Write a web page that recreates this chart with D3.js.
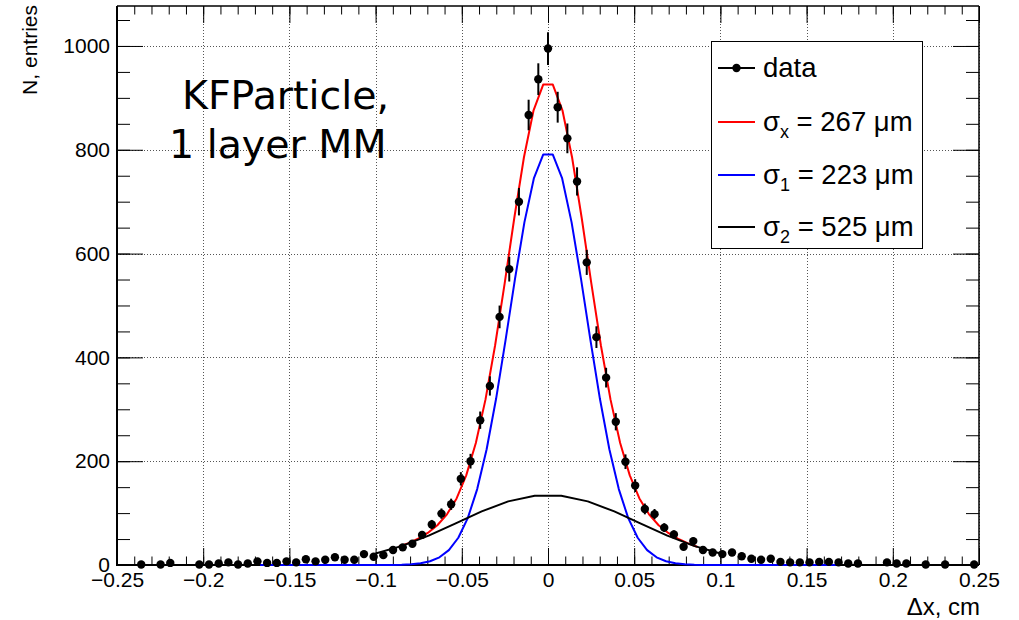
<!DOCTYPE html>
<html><head><meta charset="utf-8">
<script src="https://cdn.jsdelivr.net/npm/d3@7"></script>
<style>
body{margin:0;background:#fff;}
svg{display:block;font-family:"Liberation Sans",Arial,Helvetica,sans-serif;}
text{fill:#000;}
</style>
</head><body>
<svg id="c" width="1019" height="620"></svg>
<script>
// ---------- data ----------
const xMin = -0.25, xMax = 0.25, nBins = 89;
const binIdx = [-42,-40,-39,-36,-35,-34,-33,-32,-31,-30,-29,-28,-27,-26,-25,-24,-23,-22,-21,-20,
  -19,-18,-17,-16,-15,-14,-13,-12,-11,-10,-9,-8,-7,-6,-5,-4,-3,-2,-1,0,
  1,2,3,4,5,6,7,8,9,10,11,12,13,14,15,16,17,18,19,20,
  21,22,23,24,25,26,27,28,29,30,31,32,35,36,37,39,41,44];
const counts = [1,1,4,1,1,3,5,1,3,7,4,4,7,5,11,7,10,15,10,10,
  21,16,19,29,34,41,58,78,99,117,166,200,279,345,478,570,700,867,936,995,
  882,822,739,583,439,361,276,199,153,108,98,72,59,35,46,29,24,21,24,17,
  12,10,12,6,5,5,5,6,6,5,3,3,5,3,3,1,1,1];

const xTicks = [-0.25,-0.2,-0.15,-0.1,-0.05,0,0.05,0.1,0.15,0.2,0.25];
const xTickLabels = ["\u22120.25","\u22120.2","\u22120.15","\u22120.1","\u22120.05","0","0.05","0.1","0.15","0.2","0.25"];
const yTicks = [0,200,400,600,800,1000];
const yTickLabels = ["0","200","400","600","800","1000"];
const yMax = 1077;

// fit components (amplitude, mean, sigma in cm)
const g1 = {amp: 797, mean: 0, sigma: 0.0223};
const g2 = {amp: 135, mean: 0, sigma: 0.0525};
const curveNames  = ["total","g1","g2"];
const curveColors = ["#ff0000","#0000ff","#000000"];
const curveRanges = [[-0.0865,0.0865],[-0.167,0.167],[-0.1,0.1]];
const curveNpx    = [31,61,13];

const legendLabels = [
  {main:"data"},
  {main:"\u03c3", sub:"x", rest:" = 267 \u03bcm"},
  {main:"\u03c3", sub:"1", rest:" = 223 \u03bcm"},
  {main:"\u03c3", sub:"2", rest:" = 525 \u03bcm"}
];

// ---------- layout ----------
const L = 117, R = 979, T = 6, B = 565;
const svg = d3.select("#c");
const x = d3.scaleLinear().domain([xMin, xMax]).range([L, R]);
const y = d3.scaleLinear().domain([0, yMax]).range([B, T]);
const SANS = '"Liberation Sans", Arial, sans-serif';

// grid
const grid = svg.append("g").attr("stroke","#555").attr("stroke-width",1).attr("stroke-dasharray","1,2");
grid.selectAll("line.gx").data(xTicks).enter().append("line")
  .attr("x1",d=>Math.round(x(d))+0.5).attr("x2",d=>Math.round(x(d))+0.5).attr("y1",T).attr("y2",B);
grid.selectAll("line.gy").data(yTicks).enter().append("line")
  .attr("y1",d=>Math.round(y(d))+0.5).attr("y2",d=>Math.round(y(d))+0.5).attr("x1",L).attr("x2",R);

// axes
const fontSize = 21;
const xMinor = d3.range(-0.25, 0.2501, 0.01);
const yMinor = d3.range(0, yMax, 50);
function styleAxis(g){ g.select(".domain").remove(); g.selectAll("line").attr("stroke","#000").attr("stroke-width",1); }

svg.append("g").attr("transform",`translate(0,${B})`)
  .call(d3.axisBottom(x).tickValues(xMinor).tickSizeInner(-8.5).tickSizeOuter(0).tickFormat(""))
  .call(styleAxis);
svg.append("g").attr("transform",`translate(0,${B})`)
  .call(d3.axisBottom(x).tickValues(xTicks).tickSizeInner(-17).tickSizeOuter(0).tickPadding(7)
    .tickFormat((d,i)=>xTickLabels[i]))
  .call(styleAxis)
  .selectAll("text").style("font-size",fontSize+"px").style("font-family",SANS);
svg.append("g").attr("transform",`translate(0,${T})`)
  .call(d3.axisTop(x).tickValues(xMinor).tickSizeInner(-8.5).tickSizeOuter(0).tickFormat(""))
  .call(styleAxis);
svg.append("g").attr("transform",`translate(0,${T})`)
  .call(d3.axisTop(x).tickValues(xTicks).tickSizeInner(-17).tickSizeOuter(0).tickFormat(""))
  .call(styleAxis);

svg.append("g").attr("transform",`translate(${L},0)`)
  .call(d3.axisLeft(y).tickValues(yMinor).tickSizeInner(-13).tickSizeOuter(0).tickFormat(""))
  .call(styleAxis);
svg.append("g").attr("transform",`translate(${L},0)`)
  .call(d3.axisLeft(y).tickValues(yTicks).tickSizeInner(-26).tickSizeOuter(0).tickPadding(7)
    .tickFormat((d,i)=>yTickLabels[i]))
  .call(styleAxis)
  .selectAll("text").style("font-size",fontSize+"px").style("font-family",SANS);
svg.append("g").attr("transform",`translate(${R},0)`)
  .call(d3.axisRight(y).tickValues(yMinor).tickSizeInner(-13).tickSizeOuter(0).tickFormat(""))
  .call(styleAxis);
svg.append("g").attr("transform",`translate(${R},0)`)
  .call(d3.axisRight(y).tickValues(yTicks).tickSizeInner(-26).tickSizeOuter(0).tickFormat(""))
  .call(styleAxis);

// frame
svg.append("line").attr("x1",L).attr("x2",R).attr("y1",T).attr("y2",T).attr("stroke","#000").attr("stroke-width",1.5);
svg.append("line").attr("x1",R).attr("x2",R).attr("y1",T).attr("y2",B).attr("stroke","#000").attr("stroke-width",1.5);
svg.append("line").attr("x1",L).attr("x2",L).attr("y1",T).attr("y2",B+1).attr("stroke","#000").attr("stroke-width",2);
svg.append("line").attr("x1",L-1).attr("x2",R).attr("y1",B).attr("y2",B).attr("stroke","#000").attr("stroke-width",2);

// axis titles
svg.append("text").attr("transform",`translate(37,5) rotate(-90)`)
  .attr("text-anchor","end").style("font-size","21px").style("font-family",SANS).text("N, entries");
svg.append("text").attr("x",980).attr("y",615).attr("text-anchor","end")
  .style("font-size","24px").style("font-family",SANS).text("\u0394x, cm");

// fit curves
const gauss = (p, v) => p.amp * Math.exp(-0.5 * Math.pow((v - p.mean) / p.sigma, 2));
const fns = {
  total: v => gauss(g1, v) + gauss(g2, v),
  g1: v => gauss(g1, v),
  g2: v => gauss(g2, v)
};
const line = d3.line().x(d=>x(d[0])).y(d=>y(d[1]));
curveNames.forEach((name, i) => {
  const [a, b] = curveRanges[i], n = curveNpx[i];
  const pts = d3.range(n + 1).map(j => { const v = a + (b - a) * j / n; return [v, fns[name](v)]; });
  svg.append("path").datum(pts).attr("d", line).attr("fill","none")
    .attr("stroke", curveColors[i]).attr("stroke-width", 2).attr("stroke-linejoin","round");
});

// data points
const data = binIdx.map((k, i) => ({
  xv: xMin + (k + (nBins - 1) / 2 + 0.5) * (xMax - xMin) / nBins,
  n: counts[i]
}));
const dg = svg.append("g");
dg.selectAll("line.err").data(data).enter().append("line")
  .attr("x1", d=>x(d.xv)).attr("x2", d=>x(d.xv))
  .attr("y1", d=>y(d.n + Math.sqrt(d.n))).attr("y2", d=>y(Math.max(0, d.n - Math.sqrt(d.n))))
  .attr("stroke","#000").attr("stroke-width",2);
dg.selectAll("circle").data(data).enter().append("circle")
  .attr("cx", d=>x(d.xv)).attr("cy", d=>y(d.n)).attr("r", 4.2).attr("fill","#000");

// label text
const DEJA = '"DejaVu Sans", sans-serif';
svg.append("text").attr("x",182).attr("y",109).style("font-family",DEJA)
  .style("font-size","39.5px").text("KFParticle,");
svg.append("text").attr("x",169).attr("y",158).style("font-family",DEJA)
  .style("font-size","39.5px").text("1 layer MM");

// legend
const lg = svg.append("g");
lg.append("rect").attr("x",711.5).attr("y",41.5).attr("width",211).attr("height",207)
  .attr("fill","#fff").attr("stroke","#000").attr("stroke-width",1);
const rowY = [68, 122, 175, 227];
const legColors = ["#000", curveColors[0], curveColors[1], curveColors[2]];
legendLabels.forEach((lab, i) => {
  lg.append("line").attr("x1",718).attr("x2",755).attr("y1",rowY[i]).attr("y2",rowY[i])
    .attr("stroke",legColors[i]).attr("stroke-width",2);
  if (i === 0) lg.append("circle").attr("cx",736.5).attr("cy",rowY[i]).attr("r",4.2).attr("fill","#000");
  const t = lg.append("text").attr("x",763).attr("y",rowY[i]+9).style("font-family",SANS).style("font-size","27.5px");
  t.append("tspan").text(lab.main);
  if (lab.sub) {
    t.append("tspan").style("font-size","18px").attr("dy",7).text(lab.sub);
    t.append("tspan").style("font-size","27.5px").attr("dy",-7).text(lab.rest);
  }
});
</script>
</body></html>
